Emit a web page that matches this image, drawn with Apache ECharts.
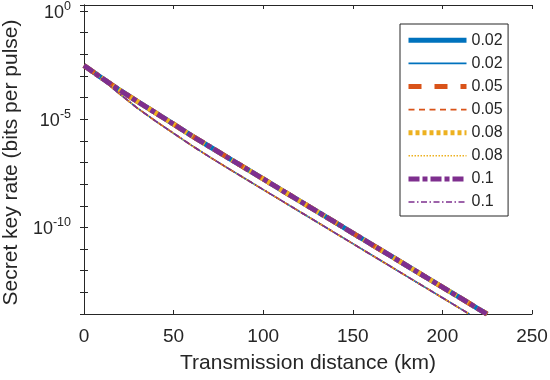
<!DOCTYPE html>
<html>
<head>
<meta charset="utf-8">
<script src="https://cdn.jsdelivr.net/npm/echarts@6/dist/echarts.min.js"></script>
<style>html,body{margin:0;padding:0;background:#fff;}#c{width:550px;height:380px;}</style>
</head>
<body>
<div id="c"></div>
<script>
// Distances (km)
var distUpper = [0,10,20,30,40,50,60,70,80,90,100,110,120,130,140,150,160,170,180,190,200,210,220,225];
var distLower = [0,10,20,30,40,50,60,70,80,90,100,110,120,130,140,150,160,170,180,190,200,210,215];
// Secret key rates (bits per pulse)
var rateUpper = [3.02e-3,7.94e-4,2.19e-4,6.46e-5,1.95e-5,5.89e-6,1.74e-6,5.50e-7,1.74e-7,5.50e-8,1.74e-8,5.50e-9,1.74e-9,5.50e-10,1.74e-10,5.50e-11,1.74e-11,5.50e-12,1.74e-12,5.50e-13,1.74e-13,5.50e-14,1.74e-14,9.8e-15];
var rateLower = [3.02e-3,7.08e-4,1.45e-4,3.16e-5,8.13e-6,2.24e-6,6.17e-7,1.82e-7,5.62e-8,1.78e-8,5.62e-9,1.78e-9,5.62e-10,1.78e-10,5.62e-11,1.78e-11,5.62e-12,1.78e-12,5.62e-13,1.78e-13,5.62e-14,1.78e-14,1.0e-14];
var legendNames = ['0.02','0.02 ','0.05','0.05 ','0.08','0.08 ','0.1','0.1 '];
var xTicks = [0,50,100,150,200,250];
var yLabelExps = [0,-5,-10];

var FONT = "'Liberation Sans', Arial, Helvetica, sans-serif";
var TXT = '#262626';
var colors = ['#0072BD','#0072BD','#D95319','#D95319','#EDB120','#EDB120','#7E2F8E','#7E2F8E'];
var widths = [5,1.6,5,1.6,5,1.6,5,1.6];
var types = ['solid','solid',[13,13],[6,4.5],[4,3],[1.5,1.5],[11,3,5,3],[6,2.5,1.5,2.5]];

function pairs(xs, ys){ var o=[]; for(var i=0;i<xs.length;i++) o.push([xs[i], ys[i]]); return o; }

var series = legendNames.map(function(n,i){
  var thick = (i%2===0);
  return {
    name: n, type:'line', xAxisIndex:0, yAxisIndex:0,
    data: thick ? pairs(distUpper, rateUpper) : pairs(distLower, rateLower),
    symbol:'none', showSymbol:false, smooth:false, clip:true,
    lineStyle:{color:colors[i], width:widths[i], type:types[i], cap:'butt'},
    itemStyle:{color:colors[i], opacity:0},
    emphasis:{disabled:true},
    animation:false
  };
});

function yFmt(v){
  var l = Math.log10(v); var e = Math.round(l);
  if (Math.abs(l-e) > 1e-6) return '';
  if (yLabelExps.indexOf(e) < 0) return '';
  return '{b|10}{s|' + e + '}';
}

var axisLineStyle = {lineStyle:{color:TXT, width:1}};
var chart = echarts.init(document.getElementById('c'), null, {renderer:'canvas'});
chart.setOption({
  animation:false,
  backgroundColor:'#fff',
  grid:{left:84, right:18, top:5, bottom:66, containLabel:false, outerBoundsMode:'none'},
  legend:{
    data: legendNames, orient:'vertical', left:400, top:24,
    itemWidth:58, itemHeight:14, itemGap:7.1,
    padding:[8.3,1,6,6],
    borderColor:TXT, borderWidth:1, backgroundColor:'#fff',
    textStyle:{fontFamily:FONT, fontSize:16, color:TXT},
    lineStyle:{width:'inherit'},
    itemStyle:{opacity:0},
    selectedMode:false
  },
  xAxis:[{
    type:'value', position:'bottom', min:0, max:250, interval:50,
    name:'Transmission distance (km)', nameLocation:'middle', nameGap:39,
    nameTextStyle:{fontFamily:FONT, fontSize:21, color:TXT},
    axisLine:axisLineStyle,
    axisTick:{inside:true, length:4, lineStyle:{color:TXT}},
    axisLabel:{fontFamily:FONT, fontSize:19, color:TXT, margin:13,
      formatter:function(v){ return xTicks.indexOf(v)>=0 ? String(v) : ''; }},
    splitLine:{show:false}
  },{
    type:'value', position:'top', min:0, max:250, interval:50,
    axisLine:axisLineStyle,
    axisTick:{inside:true, length:4, lineStyle:{color:TXT}},
    axisLabel:{show:false}, splitLine:{show:false}
  }],
  yAxis:[{
    type:'log', logBase:10, min:1e-14, max:1.9, interval:1, position:'left',
    name:'Secret key rate (bits per pulse)', nameLocation:'middle', nameGap:58,
    nameTextStyle:{fontFamily:FONT, fontSize:21, color:TXT, padding:[0,6,0,0]},
    axisLine:axisLineStyle,
    axisTick:{inside:true, length:4, lineStyle:{color:TXT}},
    axisLabel:{formatter:yFmt, margin:13, color:TXT,
      rich:{ b:{fontFamily:FONT, fontSize:18, color:TXT, verticalAlign:'bottom'},
             s:{fontFamily:FONT, fontSize:12.5, color:TXT, verticalAlign:'bottom', padding:[0,0,9,0]} }},
    splitLine:{show:false}, minorTick:{show:false}
  },{
    type:'log', logBase:10, min:1e-14, max:1.9, interval:1, position:'right',
    axisLine:axisLineStyle,
    axisTick:{inside:true, length:4, lineStyle:{color:TXT}},
    axisLabel:{show:false}, splitLine:{show:false}
  }],
  series: series
});
</script>
</body>
</html>
